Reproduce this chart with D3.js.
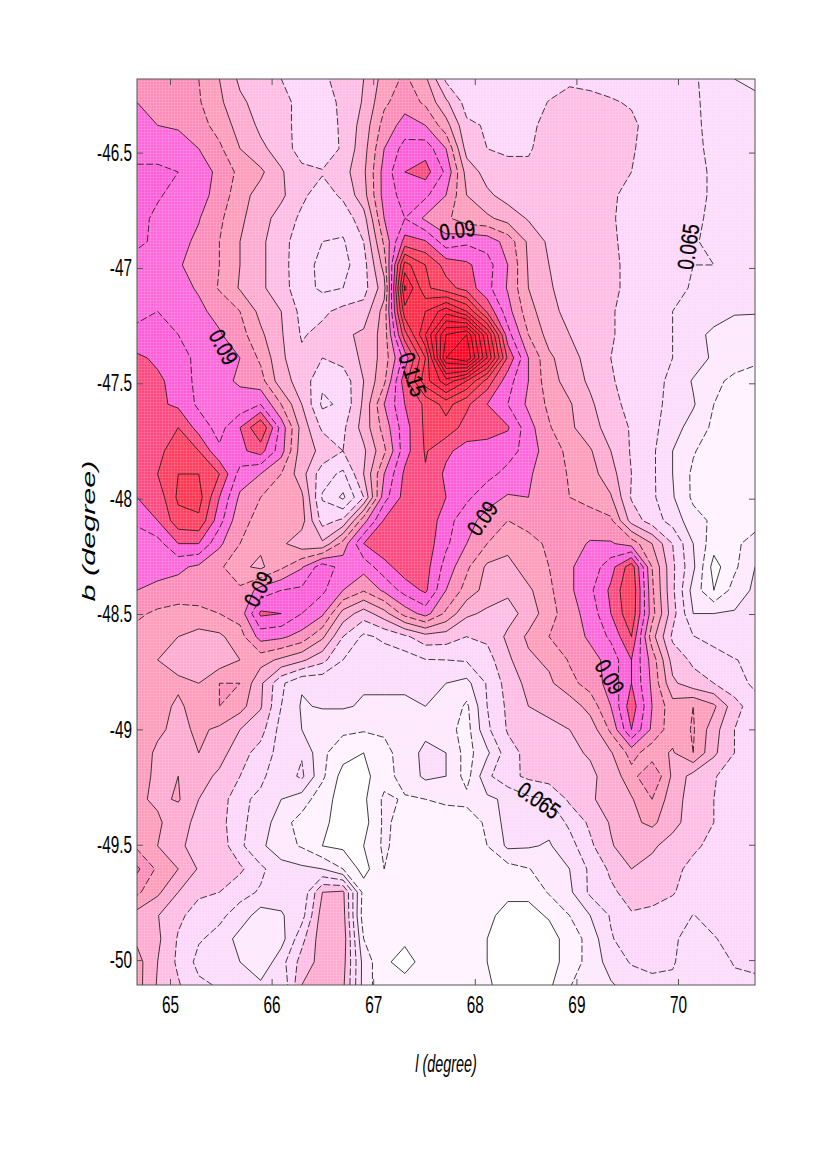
<!DOCTYPE html>
<html>
<head>
  <meta charset="utf-8">
  <script src="https://d3js.org/d3.v7.min.js"></script>
  <style>
    html, body { margin: 0; background: #fff; }
    svg { display: block; }
    .tick text { font-family: "Liberation Sans", sans-serif; font-size: 24px; fill: #000; }
    .tick line, .domain { stroke: #555; stroke-width: 1; }
    .clab { font-family: "Liberation Sans", sans-serif; font-size: 23px; fill: #000; stroke: #000; stroke-width: 0.3; text-anchor: middle; dominant-baseline: middle; }
  </style>
</head>
<body>
<script>
// grid positions, degrees
var lGrid = [64.675,64.878,65.081,65.283,65.486,65.689,65.892,66.095,66.297,66.5,66.703,66.906,67.108,67.311,67.514,67.717,67.92,68.122,68.325,68.528,68.731,68.933,69.136,69.339,69.542,69.745,69.947,70.15,70.353,70.556,70.758];
var bGrid = [-46.181,-46.282,-46.382,-46.483,-46.584,-46.685,-46.785,-46.886,-46.987,-47.087,-47.188,-47.289,-47.39,-47.49,-47.591,-47.692,-47.793,-47.893,-47.994,-48.095,-48.195,-48.296,-48.397,-48.498,-48.598,-48.699,-48.8,-48.9,-49.001,-49.102,-49.203,-49.303,-49.404,-49.505,-49.605,-49.706,-49.807,-49.908,-50.008,-50.108];

// column density, in units of 0.001, one line per b row
var density = [
[87,87,86,85,80,74,73,70,68,69,72,75,82,86,81,69,67,66,66,67,68,69.5,69,68,67,66.5,66,65.5,63.5,60,59],
[90,88,88,85.5,81,76,73,71,69,68,71,75.5,84,88,84,76,68,67.5,68.5,68,70.2,71,71,70.5,69.5,67,66.5,65.5,64,62,61],
[91,90,89.5,87,83,78,74,72,68,67,71,77,87,92,90,82,71,69.5,69,68.5,72,73,72.5,72,71,68,66.5,66,63.5,62.5,61.5],
[93,93,92,90,86,80,76,73,67.5,66,71,78,90,97,98,90,73,70,69.5,69.5,72,74,74,73,70.5,68,67,66,64,63,62],
[96,96,95,92,89,83.5,81,75.5,71.5,70.5,73,79,92,100,102,94,78,73,71,71,73,74,74.5,73.5,70,68,67,66,64.5,63.5,62.5],
[96,95.5,93.5,92,88,82,78,76,71,67.5,71,78,92,97,96,90,80,76,73,73,73.5,74,74,70.5,69,67.5,67,66,64.5,63.5,62],
[96.5,94,91.5,90.3,86,81,77,73,69,66,67,73,90,95,89,86,82,81,78,74.5,73,72.5,72,70.3,69,67.8,66.7,65.5,64.5,63.5,63],
[96,94,91.5,89,85,80,76,72,67,65,64.5,70,86,102,100.5,92,94,93,88,79,74,72.5,71.5,70.5,69,67,66.5,65.2,64.5,64,64],
[93,92,90.5,88,85,80,76,72,66.5,64,63.5,68,82,117,110,103,101,97,90,79.5,75,73,72,70.8,69,67.5,67,65,65,64.5,64],
[93,92.5,91.5,89.5,84.5,79.5,76,72,67,64,65,68,78,126,111,107,103,96.5,89.5,80,75.5,73,71.5,70.8,69,67.5,66.5,64.5,64.5,64,64],
[94,95,93,91,88.5,85,78.5,75,68.5,69,71.5,72,82,118,120,128,120,104,92,82,76.5,73.5,72,70.5,68,66.5,65,63,62,60.5,60.5],
[96,96,95,93,90.5,87,81,75.5,69.5,71.5,74,76,82,108,125,145,150,125,97,85,78,75,72,70.5,68,66.5,65,61.5,59,57.5,56.5],
[101,99,96.5,94,91.5,90,84,76,71,70,72,76,82,97,115,150,155,130,104,90,81,77,73,70,68,66.5,65,63,59,57,56],
[101,101,98,93.5,91,89.5,87,77,73,66,67,75,84,103,118,128,120,108,97,90,82,78,74,70.5,68,66.5,64,59.5,56,54,53],
[101,101,99,94,91.5,91.5,95,85,75,64,66,76,90,100,106,112,106,100,95,89,84,80.5,76,71,69,66.5,63.5,60.5,55,53,52],
[102,102,105,98,93,100,110,93,78,69,69,77,87,98,106,108,103,103,100.5,92,85.5,81,77,73,69.5,66.5,62,58,54,52,51],
[102,104,107,105,96,99,102,92,77,74,70,74,84,98,105.5,101,98,97,97,93,87,84,80.5,75,69.5,66,60,55.5,52,51,50.5],
[101,105,110,110,105,93,90,85,77,67,64,75,90,101,104.5,99,97.5,96.5,93.5,90.5,88,84.5,82,77,70,66,60,54,52,50.5,50],
[100,102,111,112,100,89,85,84,81,64.5,59,70,93,102,104,100,96,92,89.5,90,87,85,83.5,80.5,69.5,66,60.5,54,52,51,50],
[96,100,108,109,97,86,84,84,82,68,71,88,100.5,104,104,97,92,88,85,87,88,87,87,86,73,67.5,63,57,54,53,53],
[92,93,100,100,91,85,81,81,77,76,87,100,104,104,103,96,90,85,82,83,86,88,90.5,90.5,88,80,70,60,52,54,57],
[91,91.5,91,89,86,81,79,84,89.5,98,93,92,98,103,102,93,86,79,78,83,85,89.5,92,98,108,85,71,61,48,54,60],
[90,89,88,87,86,86,92,95,96,96,90,85.5,91,97,101,90,83,78,76,79,84,89,94,101,110,86,71,58,50,57,61],
[86,84,83,84,85,87,101,100,95,91,78,72.5,78,87,92,84,76,74,73,77,83,88,92,100,109,87,72,60,60,60.5,61],
[83,83,80,78,79,83,92,91,88,81,70,64,66,69,73,72.5,70,71,76,81,85,87,91,96,105,82,69,65.2,63,62,61.5],
[81,80,78,77,77,80,82,79,76,71.5,65,62,62.5,62.5,64.8,65,65.5,68,74,79,81,85.5,88,92,100,88,73,69,67.5,65.2,64],
[83,82,81,80,85,85,76,66,60.5,61,60.5,60.5,60.5,60.5,61,60,58.5,65.5,72,76.5,79,83.5,87,92,100,89,76,72,70,67,64],
[85,82,79,82.5,85,82,75.5,65,59.5,60.5,60.5,59.5,59.5,59.5,60,59.5,54,65,71,75,75.5,77,82,90,103,90,82,85,81,72,67],
[81,81,78.5,81,79,75,72,63,60,56,56,55.5,56,57,59,57,53,64,70.5,73,74.5,75,77,86,100,89,82,85.5,77,70,67],
[83,79,79,80,77,72,68,63,64.5,56,52,50,53,58,61,60,53,59,68,71.5,73,74,75.5,79.5,87,82,79.5,85,76,70,66.5],
[82,79,80,77,74,70,66,62,66,56,48,48.5,53,57,61,60,53,64,68.5,71,72.5,73,74,77,83,90,79,73,70.5,67,66],
[81,79,80.5,75,73,66,64,60,57.5,52,48,49,56,54.5,55,56,56.5,59,61,64,65,71,74.5,76.5,79.5,85,77,73,70,66.5,65.5],
[84,81,76.5,74,72,66,63,57,53,51,48,48,56,53,53,52,52,56,62,62.5,61.5,66,71,75.5,79,81,77,72,70,66.5,65.5],
[84,80,75.5,74,73,66,61,57,54.5,50,49,50,56,52,52,52,52,55,61,60.5,59.5,63,69,74.5,78,76,72.5,71,68.5,66.5,65.5],
[91,84,80,74.5,75,71,66,62,61,60,55,48,55,52,52,52,52,54,53,54.8,57,60,66,71,75,73,71.5,68.5,67,66.5,66],
[86,81,75,70.8,70,66.5,64.5,62,61,75,76,53,52,52,52,52,52,53,51,51,55.5,59,66,69,72,71.5,70.5,67,66.5,66.5,66],
[78,75.2,71,68,66,63,57.5,59.5,63,77.5,77,52,52,52,52,52,52,51,48.5,48.5,50.5,55,60,65.5,69.5,69,67,64.9,66,67,67],
[79,76,69.5,65.5,63.5,58,56,58,68.5,78,78,55,51,51,52,52,52,50,46,46,48,52,57,64.5,68,68,66,62.5,64.8,66,67],
[82,75,69,63.5,65,60,56,63,72,77,77,58,51,48,52,52,51.5,50,47,45,48,52,57,62,65.5,66,65.5,62,62,65.5,66],
[82,74.5,70.5,66,64.5,61,61,60.5,75,78,76,58,51,52,52,52,52,51,47,45,49,54.8,57,59.5,62,64,64,62,63,63.5,64]
];

var levels = [45,50,55,60,65,70,75,80,85,90,95,100,105,110,115,120,125,130,135,140,145,150];
var dashedLevels = [55,65,70,85,95];
var bandColors = ["#ffffff","#fff2ff","#fde8fd","#fcdcfb","#fcd6fa","#ffbce4","#ffaad0","#ff9cbc","#ff8cb8","#ff68da","#ff5ed8","#ff4a80","#ff4060","#ff3650","#ff2c48","#ff2040","#ff1838","#ff1434","#ff1030","#ff0c2c","#ff0828","#ff0424"];

var xTicks = [65,66,67,68,69,70];
var yTicks = [-46.5,-47,-47.5,-48,-48.5,-49,-49.5,-50];

var inlineLabels = [
  {text:"0.09", l:65.51, b:-47.347, rot:62},
  {text:"0.09", l:67.83, b:-46.844, rot:-8},
  {text:"0.09", l:68.09, b:-48.09, rot:-55},
  {text:"0.09", l:65.886, b:-48.396, rot:-62},
  {text:"0.09", l:69.31, b:-48.777, rot:60},
  {text:"0.115", l:67.37, b:-47.464, rot:72},
  {text:"0.065", l:70.12, b:-46.909, rot:-82},
  {text:"0.065", l:68.62, b:-49.315, rot:35}
];

var width = 827, height = 1170;
var left = 137, right = 755, top_ = 79, bottom = 985;

var x = d3.scaleLinear().domain([lGrid[0], lGrid[lGrid.length-1]]).range([left, right]);
var y = d3.scaleLinear().domain([bGrid[0], bGrid[bGrid.length-1]]).range([top_, bottom]);

var svg = d3.select("body").append("svg").attr("width", width).attr("height", height);

var defs = svg.append("defs");
defs.append("clipPath").attr("id", "plot").append("rect")
  .attr("x", left).attr("y", top_).attr("width", right-left).attr("height", bottom-top_);
// the halftone weave of the printed fill
var weave = defs.append("pattern").attr("id", "weave").attr("width", 3).attr("height", 3)
  .attr("patternUnits", "userSpaceOnUse");
weave.append("rect").attr("width", 1).attr("height", 3).attr("fill", "#fff").attr("opacity", 0.12);
weave.append("rect").attr("width", 3).attr("height", 1).attr("fill", "#fff").attr("opacity", 0.12);

var nx = lGrid.length, ny = bGrid.length;
var flat = [];
density.forEach(function(row) { row.forEach(function(v) { flat.push(v); }); });

var contours = d3.contours().size([nx, ny]).thresholds(levels)(flat);

// contour coords run at cell centres + 0.5
var gridPath = d3.geoPath(d3.geoTransform({
  point: function(cx, cy) {
    var fx = cx - 0.5, fy = cy - 0.5;
    var i = Math.max(0, Math.min(nx-2, Math.floor(fx)));
    var j = Math.max(0, Math.min(ny-2, Math.floor(fy)));
    var l = lGrid[i] + (fx-i)*(lGrid[i+1]-lGrid[i]);
    var b = bGrid[j] + (fy-j)*(bGrid[j+1]-bGrid[j]);
    this.stream.point(x(l), y(b));
  }
}));

var plot = svg.append("g").attr("clip-path", "url(#plot)");
plot.append("rect").attr("x", left).attr("y", top_).attr("width", right-left).attr("height", bottom-top_).attr("fill", "#fff");

plot.selectAll("path.band").data(contours).enter().append("path")
  .attr("class", "band")
  .attr("d", gridPath)
  .attr("fill", function(d, i) { return bandColors[i]; });

plot.append("rect").attr("x", left).attr("y", top_).attr("width", right-left).attr("height", bottom-top_).attr("fill", "url(#weave)");

plot.selectAll("path.line").data(contours.slice(1)).enter().append("path")
  .attr("class", "line")
  .attr("d", gridPath)
  .attr("fill", "none")
  .attr("stroke", "#1c1c1c")
  .attr("stroke-width", 0.95)
  .attr("stroke-opacity", 0.9)
  .attr("stroke-dasharray", function(d) { return dashedLevels.indexOf(d.value) >= 0 ? "7,2.5" : null; });

// axes, ticks point inward like the matlab box
svg.append("g").attr("transform", "translate(0," + bottom + ")")
  .call(d3.axisBottom(x).tickValues(xTicks).tickSize(-6).tickPadding(11).tickFormat(d3.format("d")));
svg.append("g").attr("transform", "translate(0," + top_ + ")")
  .call(d3.axisTop(x).tickValues(xTicks).tickSize(-6).tickFormat(""));
svg.append("g").attr("transform", "translate(" + left + ",0)")
  .call(d3.axisLeft(y).tickValues(yTicks).tickSize(-6).tickPadding(5).tickFormat(function(d) { return String(d); }));
svg.append("g").attr("transform", "translate(" + right + ",0)")
  .call(d3.axisRight(y).tickValues(yTicks).tickSize(-6).tickFormat(""));
svg.selectAll(".domain").attr("d", null);
svg.selectAll(".tick text").attr("transform", function() {
  // tall narrow digits of the original; pull left-axis text back to its anchor
  var tx = +d3.select(this).attr("x") || 0;
  return "translate(" + (tx*0.36) + ",0) scale(0.64,1)";
});
svg.append("rect").attr("x", left).attr("y", top_).attr("width", right-left).attr("height", bottom-top_)
  .attr("fill", "none").attr("stroke", "#555");

svg.append("g").selectAll("text").data(inlineLabels).enter().append("text")
  .attr("class", "clab")
  .attr("transform", function(d) { return "translate(" + x(d.l) + "," + y(d.b) + ") rotate(" + d.rot + ") scale(0.8,1)"; })
  .text(function(d) { return d.text; });

svg.append("text").attr("transform", "translate(446,1072) scale(0.6,1)").attr("text-anchor", "middle")
  .style("font-family", '"Liberation Sans", sans-serif')
  .style("font-style", "italic").style("font-size", "24px").text("l (degree)");

svg.append("text").attr("transform", "translate(95,531) rotate(-90) scale(1.7,1)").attr("text-anchor", "middle")
  .style("font-family", '"Liberation Sans", sans-serif')
  .style("font-style", "italic").style("font-size", "18px").text("b (degree)");
</script>
</body>
</html>
